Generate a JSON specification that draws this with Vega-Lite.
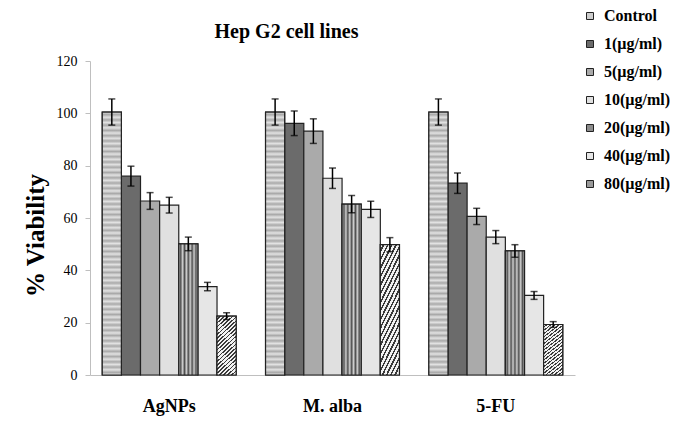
{
  "$schema": "https://vega.github.io/schema/vega-lite/v6.json",
  "width": 485,
  "height": 314,
  "autosize": "none",
  "padding": {"left": 90, "top": 61, "right": 119, "bottom": 58},
  "background": "white",
  "title": {"text": "Hep G2 cell lines", "font": "Liberation Serif", "fontSize": 20, "fontWeight": "bold", "color": "black", "anchor": "middle", "frame": "group", "dx": -46, "offset": -34},
  "config": {"view": {"stroke": null}},
  "data": {"values": [
    {"group": "AgNPs", "dose": "Control", "value": 100.5, "low": 95.5, "high": 105.5},
    {"group": "AgNPs", "dose": "1(µg/ml)", "value": 76.0, "low": 72.2, "high": 79.8},
    {"group": "AgNPs", "dose": "5(µg/ml)", "value": 66.5, "low": 63.3, "high": 69.7},
    {"group": "AgNPs", "dose": "10(µg/ml)", "value": 64.9, "low": 61.9, "high": 67.9},
    {"group": "AgNPs", "dose": "20(µg/ml)", "value": 50.1, "low": 47.5, "high": 52.7},
    {"group": "AgNPs", "dose": "40(µg/ml)", "value": 33.8, "low": 32.2, "high": 35.4},
    {"group": "AgNPs", "dose": "80(µg/ml)", "value": 22.5, "low": 21.2, "high": 23.8},
    {"group": "M. alba", "dose": "Control", "value": 100.5, "low": 95.5, "high": 105.5},
    {"group": "M. alba", "dose": "1(µg/ml)", "value": 96.2, "low": 91.5, "high": 100.9},
    {"group": "M. alba", "dose": "5(µg/ml)", "value": 93.2, "low": 88.5, "high": 97.9},
    {"group": "M. alba", "dose": "10(µg/ml)", "value": 75.2, "low": 71.3, "high": 79.1},
    {"group": "M. alba", "dose": "20(µg/ml)", "value": 65.3, "low": 62.0, "high": 68.6},
    {"group": "M. alba", "dose": "40(µg/ml)", "value": 63.3, "low": 60.2, "high": 66.4},
    {"group": "M. alba", "dose": "80(µg/ml)", "value": 49.8, "low": 47.1, "high": 52.5},
    {"group": "5-FU", "dose": "Control", "value": 100.5, "low": 95.5, "high": 105.5},
    {"group": "5-FU", "dose": "1(µg/ml)", "value": 73.3, "low": 69.4, "high": 77.2},
    {"group": "5-FU", "dose": "5(µg/ml)", "value": 60.6, "low": 57.5, "high": 63.7},
    {"group": "5-FU", "dose": "10(µg/ml)", "value": 52.7, "low": 50.2, "high": 55.2},
    {"group": "5-FU", "dose": "20(µg/ml)", "value": 47.4, "low": 45.0, "high": 49.8},
    {"group": "5-FU", "dose": "40(µg/ml)", "value": 30.4, "low": 28.9, "high": 31.9},
    {"group": "5-FU", "dose": "80(µg/ml)", "value": 19.3, "low": 18.2, "high": 20.4}
  ]},
  "encoding": {
    "x": {"field": "group", "type": "nominal", "sort": ["AgNPs", "M. alba", "5-FU"],
      "scale": {"domain": ["AgNPs", "M. alba", "5-FU"], "paddingInner": 0.18, "paddingOuter": 0.075},
      "axis": {"title": null, "labelAngle": 0, "ticks": false, "domainColor": "#bfbfbf", "domainWidth": 1, "labelFont": "Liberation Serif", "labelFontSize": 18, "labelFontWeight": "bold", "labelColor": "black", "labelPadding": 22}},
    "xOffset": {"field": "dose", "type": "nominal",
      "scale": {"domain": ["Control", "1(µg/ml)", "5(µg/ml)", "10(µg/ml)", "20(µg/ml)", "40(µg/ml)", "80(µg/ml)"], "paddingInner": 0, "paddingOuter": 0}}
  },
  "layer": [
    {
      "mark": {"type": "bar", "stroke": "#222222", "strokeWidth": 1.2},
      "encoding": {
        "y": {"field": "value", "type": "quantitative", "scale": {"domain": [0, 120]},
          "axis": {"title": "% Viability", "titleFont": "Liberation Serif", "titleFontSize": 25, "titleFontWeight": "bold", "titleColor": "black", "titleX": -55, "titleY": 174, "titleAngle": -90, "titleBaseline": "middle", "titleAlign": "center",
            "values": [0, 20, 40, 60, 80, 100, 120], "grid": false, "domainColor": "#bfbfbf", "tickColor": "#bfbfbf", "tickSize": 5, "labelFont": "Liberation Serif", "labelFontSize": 14, "labelColor": "black", "labelPadding": 8}},
        "fill": {"field": "dose", "type": "nominal",
          "scale": {"domain": ["Control", "1(µg/ml)", "5(µg/ml)", "10(µg/ml)", "20(µg/ml)", "40(µg/ml)", "80(µg/ml)"],
            "range": ["#cdcdcd", "#6b6b6b", "#aaaaaa", "#e0e0e0", "#8c8c8c", "#e6e6e6", "#9a9a9a"]},
          "legend": {"orient": "none", "legendX": 492, "legendY": -53, "title": null, "labelFont": "Liberation Serif", "labelFontSize": 16, "labelFontWeight": "bold", "labelColor": "black", "symbolType": "square", "symbolSize": 49, "symbolStrokeColor": "#222222", "symbolStrokeWidth": 1, "rowPadding": 12, "labelOffset": 6, "padding": 0}}
      }
    },
    {
      "transform": [{"filter": "datum.dose === 'Control'"}],
      "mark": {"type": "bar", "stroke": "#222222", "strokeWidth": 1.2,
        "fill": {"gradient": "linear", "x1": 0, "y1": 0, "x2": 0, "y2": 1, "stops": [
          {"offset": 0.00, "color": "#e2e2e2"}, {"offset": 0.01, "color": "#a9a9a9"}, {"offset": 0.02, "color": "#e2e2e2"}, {"offset": 0.03, "color": "#a9a9a9"}, {"offset": 0.04, "color": "#e2e2e2"}, {"offset": 0.05, "color": "#a9a9a9"}, {"offset": 0.06, "color": "#e2e2e2"}, {"offset": 0.07, "color": "#a9a9a9"}, {"offset": 0.08, "color": "#e2e2e2"}, {"offset": 0.09, "color": "#a9a9a9"},
          {"offset": 0.10, "color": "#e2e2e2"}, {"offset": 0.11, "color": "#a9a9a9"}, {"offset": 0.12, "color": "#e2e2e2"}, {"offset": 0.13, "color": "#a9a9a9"}, {"offset": 0.14, "color": "#e2e2e2"}, {"offset": 0.15, "color": "#a9a9a9"}, {"offset": 0.16, "color": "#e2e2e2"}, {"offset": 0.17, "color": "#a9a9a9"}, {"offset": 0.18, "color": "#e2e2e2"}, {"offset": 0.19, "color": "#a9a9a9"},
          {"offset": 0.20, "color": "#e2e2e2"}, {"offset": 0.21, "color": "#a9a9a9"}, {"offset": 0.22, "color": "#e2e2e2"}, {"offset": 0.23, "color": "#a9a9a9"}, {"offset": 0.24, "color": "#e2e2e2"}, {"offset": 0.25, "color": "#a9a9a9"}, {"offset": 0.26, "color": "#e2e2e2"}, {"offset": 0.27, "color": "#a9a9a9"}, {"offset": 0.28, "color": "#e2e2e2"}, {"offset": 0.29, "color": "#a9a9a9"},
          {"offset": 0.30, "color": "#e2e2e2"}, {"offset": 0.31, "color": "#a9a9a9"}, {"offset": 0.32, "color": "#e2e2e2"}, {"offset": 0.33, "color": "#a9a9a9"}, {"offset": 0.34, "color": "#e2e2e2"}, {"offset": 0.35, "color": "#a9a9a9"}, {"offset": 0.36, "color": "#e2e2e2"}, {"offset": 0.37, "color": "#a9a9a9"}, {"offset": 0.38, "color": "#e2e2e2"}, {"offset": 0.39, "color": "#a9a9a9"},
          {"offset": 0.40, "color": "#e2e2e2"}, {"offset": 0.41, "color": "#a9a9a9"}, {"offset": 0.42, "color": "#e2e2e2"}, {"offset": 0.43, "color": "#a9a9a9"}, {"offset": 0.44, "color": "#e2e2e2"}, {"offset": 0.45, "color": "#a9a9a9"}, {"offset": 0.46, "color": "#e2e2e2"}, {"offset": 0.47, "color": "#a9a9a9"}, {"offset": 0.48, "color": "#e2e2e2"}, {"offset": 0.49, "color": "#a9a9a9"},
          {"offset": 0.50, "color": "#e2e2e2"}, {"offset": 0.51, "color": "#a9a9a9"}, {"offset": 0.52, "color": "#e2e2e2"}, {"offset": 0.53, "color": "#a9a9a9"}, {"offset": 0.54, "color": "#e2e2e2"}, {"offset": 0.55, "color": "#a9a9a9"}, {"offset": 0.56, "color": "#e2e2e2"}, {"offset": 0.57, "color": "#a9a9a9"}, {"offset": 0.58, "color": "#e2e2e2"}, {"offset": 0.59, "color": "#a9a9a9"},
          {"offset": 0.60, "color": "#e2e2e2"}, {"offset": 0.61, "color": "#a9a9a9"}, {"offset": 0.62, "color": "#e2e2e2"}, {"offset": 0.63, "color": "#a9a9a9"}, {"offset": 0.64, "color": "#e2e2e2"}, {"offset": 0.65, "color": "#a9a9a9"}, {"offset": 0.66, "color": "#e2e2e2"}, {"offset": 0.67, "color": "#a9a9a9"}, {"offset": 0.68, "color": "#e2e2e2"}, {"offset": 0.69, "color": "#a9a9a9"},
          {"offset": 0.70, "color": "#e2e2e2"}, {"offset": 0.71, "color": "#a9a9a9"}, {"offset": 0.72, "color": "#e2e2e2"}, {"offset": 0.73, "color": "#a9a9a9"}, {"offset": 0.74, "color": "#e2e2e2"}, {"offset": 0.75, "color": "#a9a9a9"}, {"offset": 0.76, "color": "#e2e2e2"}, {"offset": 0.77, "color": "#a9a9a9"}, {"offset": 0.78, "color": "#e2e2e2"}, {"offset": 0.79, "color": "#a9a9a9"},
          {"offset": 0.80, "color": "#e2e2e2"}, {"offset": 0.81, "color": "#a9a9a9"}, {"offset": 0.82, "color": "#e2e2e2"}, {"offset": 0.83, "color": "#a9a9a9"}, {"offset": 0.84, "color": "#e2e2e2"}, {"offset": 0.85, "color": "#a9a9a9"}, {"offset": 0.86, "color": "#e2e2e2"}, {"offset": 0.87, "color": "#a9a9a9"}, {"offset": 0.88, "color": "#e2e2e2"}, {"offset": 0.89, "color": "#a9a9a9"},
          {"offset": 0.90, "color": "#e2e2e2"}, {"offset": 0.91, "color": "#a9a9a9"}, {"offset": 0.92, "color": "#e2e2e2"}, {"offset": 0.93, "color": "#a9a9a9"}, {"offset": 0.94, "color": "#e2e2e2"}, {"offset": 0.95, "color": "#a9a9a9"}, {"offset": 0.96, "color": "#e2e2e2"}, {"offset": 0.97, "color": "#a9a9a9"}, {"offset": 0.98, "color": "#e2e2e2"}, {"offset": 0.99, "color": "#a9a9a9"}, {"offset": 1.00, "color": "#e2e2e2"}
        ]}},
      "encoding": {"y": {"field": "value", "type": "quantitative"}}
    },
    {
      "transform": [{"filter": "datum.dose === '20(µg/ml)'"}],
      "mark": {"type": "bar", "stroke": "#222222", "strokeWidth": 1.2,
        "fill": {"gradient": "linear", "x1": 0, "y1": 0, "x2": 1, "y2": 0, "stops": [
          {"offset": 0.0, "color": "#d0d0d0"}, {"offset": 0.1, "color": "#505050"}, {"offset": 0.2, "color": "#d0d0d0"}, {"offset": 0.3, "color": "#505050"}, {"offset": 0.4, "color": "#d0d0d0"}, {"offset": 0.5, "color": "#505050"}, {"offset": 0.6, "color": "#d0d0d0"}, {"offset": 0.7, "color": "#505050"}, {"offset": 0.8, "color": "#d0d0d0"}, {"offset": 0.9, "color": "#505050"}, {"offset": 1.0, "color": "#d0d0d0"}
        ]}},
      "encoding": {"y": {"field": "value", "type": "quantitative"}}
    },
    {
      "transform": [{"filter": "datum.dose === '80(µg/ml)'"}],
      "mark": {"type": "bar", "stroke": "#222222", "strokeWidth": 1.2,
        "fill": {"gradient": "linear", "x1": 0, "y1": 0, "x2": 0.36, "y2": 1.2, "stops": [
          {"offset": 0.00, "color": "#f2f2f2"}, {"offset": 0.03, "color": "#f2f2f2"}, {"offset": 0.03, "color": "#3a3a3a"}, {"offset": 0.05, "color": "#3a3a3a"},
          {"offset": 0.05, "color": "#f2f2f2"}, {"offset": 0.08, "color": "#f2f2f2"}, {"offset": 0.08, "color": "#3a3a3a"}, {"offset": 0.10, "color": "#3a3a3a"},
          {"offset": 0.10, "color": "#f2f2f2"}, {"offset": 0.13, "color": "#f2f2f2"}, {"offset": 0.13, "color": "#3a3a3a"}, {"offset": 0.15, "color": "#3a3a3a"},
          {"offset": 0.15, "color": "#f2f2f2"}, {"offset": 0.18, "color": "#f2f2f2"}, {"offset": 0.18, "color": "#3a3a3a"}, {"offset": 0.20, "color": "#3a3a3a"},
          {"offset": 0.20, "color": "#f2f2f2"}, {"offset": 0.23, "color": "#f2f2f2"}, {"offset": 0.23, "color": "#3a3a3a"}, {"offset": 0.25, "color": "#3a3a3a"},
          {"offset": 0.25, "color": "#f2f2f2"}, {"offset": 0.28, "color": "#f2f2f2"}, {"offset": 0.28, "color": "#3a3a3a"}, {"offset": 0.30, "color": "#3a3a3a"},
          {"offset": 0.30, "color": "#f2f2f2"}, {"offset": 0.33, "color": "#f2f2f2"}, {"offset": 0.33, "color": "#3a3a3a"}, {"offset": 0.35, "color": "#3a3a3a"},
          {"offset": 0.35, "color": "#f2f2f2"}, {"offset": 0.38, "color": "#f2f2f2"}, {"offset": 0.38, "color": "#3a3a3a"}, {"offset": 0.40, "color": "#3a3a3a"},
          {"offset": 0.40, "color": "#f2f2f2"}, {"offset": 0.43, "color": "#f2f2f2"}, {"offset": 0.43, "color": "#3a3a3a"}, {"offset": 0.45, "color": "#3a3a3a"},
          {"offset": 0.45, "color": "#f2f2f2"}, {"offset": 0.48, "color": "#f2f2f2"}, {"offset": 0.48, "color": "#3a3a3a"}, {"offset": 0.50, "color": "#3a3a3a"},
          {"offset": 0.50, "color": "#f2f2f2"}, {"offset": 0.53, "color": "#f2f2f2"}, {"offset": 0.53, "color": "#3a3a3a"}, {"offset": 0.55, "color": "#3a3a3a"},
          {"offset": 0.55, "color": "#f2f2f2"}, {"offset": 0.58, "color": "#f2f2f2"}, {"offset": 0.58, "color": "#3a3a3a"}, {"offset": 0.60, "color": "#3a3a3a"},
          {"offset": 0.60, "color": "#f2f2f2"}, {"offset": 0.63, "color": "#f2f2f2"}, {"offset": 0.63, "color": "#3a3a3a"}, {"offset": 0.65, "color": "#3a3a3a"},
          {"offset": 0.65, "color": "#f2f2f2"}, {"offset": 0.68, "color": "#f2f2f2"}, {"offset": 0.68, "color": "#3a3a3a"}, {"offset": 0.70, "color": "#3a3a3a"},
          {"offset": 0.70, "color": "#f2f2f2"}, {"offset": 0.73, "color": "#f2f2f2"}, {"offset": 0.73, "color": "#3a3a3a"}, {"offset": 0.75, "color": "#3a3a3a"},
          {"offset": 0.75, "color": "#f2f2f2"}, {"offset": 0.78, "color": "#f2f2f2"}, {"offset": 0.78, "color": "#3a3a3a"}, {"offset": 0.80, "color": "#3a3a3a"},
          {"offset": 0.80, "color": "#f2f2f2"}, {"offset": 0.83, "color": "#f2f2f2"}, {"offset": 0.83, "color": "#3a3a3a"}, {"offset": 0.85, "color": "#3a3a3a"},
          {"offset": 0.85, "color": "#f2f2f2"}, {"offset": 0.88, "color": "#f2f2f2"}, {"offset": 0.88, "color": "#3a3a3a"}, {"offset": 0.90, "color": "#3a3a3a"},
          {"offset": 0.90, "color": "#f2f2f2"}, {"offset": 0.93, "color": "#f2f2f2"}, {"offset": 0.93, "color": "#3a3a3a"}, {"offset": 0.95, "color": "#3a3a3a"},
          {"offset": 0.95, "color": "#f2f2f2"}, {"offset": 0.98, "color": "#f2f2f2"}, {"offset": 0.98, "color": "#3a3a3a"}, {"offset": 1.00, "color": "#3a3a3a"}
        ]}},
      "encoding": {"y": {"field": "value", "type": "quantitative"}}
    },
    {
      "mark": {"type": "rule", "color": "black", "strokeWidth": 1.5},
      "encoding": {"y": {"field": "low", "type": "quantitative"}, "y2": {"field": "high"}}
    },
    {
      "mark": {"type": "tick", "color": "black", "thickness": 1.5, "size": 7},
      "encoding": {"y": {"field": "low", "type": "quantitative"}}
    },
    {
      "mark": {"type": "tick", "color": "black", "thickness": 1.5, "size": 7},
      "encoding": {"y": {"field": "high", "type": "quantitative"}}
    }
  ]
}
